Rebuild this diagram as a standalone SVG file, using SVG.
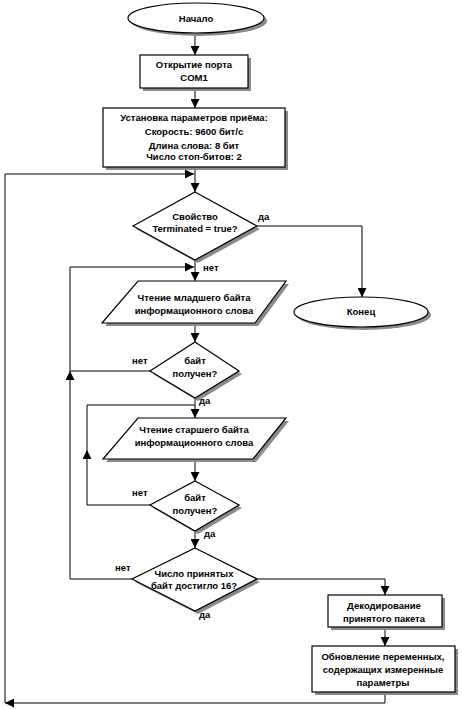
<svg xmlns="http://www.w3.org/2000/svg" width="462" height="709" viewBox="0 0 462 709">
<style>
.s{fill:#fff;stroke:#000;stroke-width:1.2}
.sh{fill:#8a8a8a;stroke:none}
.c{fill:none;stroke:#000;stroke-width:1}
text{font-family:"Liberation Sans",Arial,sans-serif;font-size:9.5px;font-weight:bold;fill:#000}
.m{text-anchor:middle}
</style>
<defs>
<marker id="a" viewBox="0 0 10 10" refX="10" refY="5" markerWidth="9" markerHeight="9" markerUnits="userSpaceOnUse" orient="auto">
<path d="M0,0 L10,5 L0,10 z" fill="#000"/>
</marker>
</defs>
<rect width="462" height="709" fill="#fff"/>
<g id="connectors">
<path class="c" d="M195,33 V55" marker-end="url(#a)"/>
<path class="c" d="M195,88 V108" marker-end="url(#a)"/>
<path class="c" d="M195,167 V192" marker-end="url(#a)"/>
<path class="c" d="M385,692 V703 H5" marker-end="url(#a)"/>
<path class="c" d="M5,703 V174 H194" marker-end="url(#a)"/>
<path class="c" d="M257,226 H362 V297" marker-end="url(#a)"/>
<path class="c" d="M195,260 V281" marker-end="url(#a)"/>
<path class="c" d="M70,267 H194" marker-end="url(#a)"/>
<path class="c" d="M195,323 V342" marker-end="url(#a)"/>
<path class="c" d="M150,371 H70"/>
<path class="c" d="M132,579 H70 V371" marker-end="url(#a)"/>
<path class="c" d="M70,371 V267"/>
<path class="c" d="M195,398 V418" marker-end="url(#a)"/>
<path class="c" d="M150,505 H87 V450" marker-end="url(#a)"/>
<path class="c" d="M87,450 V405 H195"/>
<path class="c" d="M195,459 V481" marker-end="url(#a)"/>
<path class="c" d="M195,531 V548" marker-end="url(#a)"/>
<path class="c" d="M257,579 H385 V595" marker-end="url(#a)"/>
<path class="c" d="M385,627 V646" marker-end="url(#a)"/>
</g>
<g id="start">
<ellipse class="sh" cx="199" cy="21" rx="68" ry="15"/>
<ellipse class="s" cx="196" cy="18" rx="68" ry="15"/>
<text class="m" x="196" y="22">Начало</text>
</g>
<g id="open-port">
<rect class="sh" x="143" y="58" width="108" height="33"/>
<rect class="s" x="140" y="55" width="108" height="33"/>
<text class="m" x="194" y="68">Открытие порта</text>
<text class="m" x="194" y="81">COM1</text>
</g>
<g id="set-params">
<rect class="sh" x="106" y="111" width="182" height="59"/>
<rect class="s" x="103" y="108" width="182" height="59"/>
<text class="m" x="194" y="121">Установка параметров приёма:</text>
<text class="m" x="194" y="135">Скорость: 9600 бит/с</text>
<text class="m" x="194" y="149">Длина слова: 8 бит</text>
<text class="m" x="194" y="160">Число стоп-битов: 2</text>
</g>
<g id="terminated">
<polygon class="sh" points="198,195 260,229 198,263 136,229"/>
<polygon class="s" points="195,192 257,226 195,260 133,226"/>
<text class="m" x="195" y="220">Свойство</text>
<text class="m" x="195" y="232">Terminated = true?</text>
<text x="258" y="220">да</text>
<text x="203" y="271">нет</text>
</g>
<g id="end">
<ellipse class="sh" cx="364" cy="315" rx="67" ry="15"/>
<ellipse class="s" cx="361" cy="312" rx="67" ry="15"/>
<text class="m" x="361" y="315">Конец</text>
</g>
<g id="read-low">
<polygon class="sh" points="141,284 289,284 258,326 105,326"/>
<polygon class="s" points="138,281 286,281 255,323 102,323"/>
<text class="m" x="194" y="301">Чтение младшего байта</text>
<text class="m" x="194" y="314">информационного слова</text>
</g>
<g id="got-low">
<polygon class="sh" points="198,345 242,374 198,401 153,374"/>
<polygon class="s" points="195,342 239,371 195,398 150,371"/>
<text class="m" x="195" y="364">байт</text>
<text class="m" x="195" y="377">получен?</text>
<text x="132" y="364">нет</text>
<text x="199" y="404">да</text>
</g>
<g id="read-high">
<polygon class="sh" points="141,421 289,421 256,462 106,462"/>
<polygon class="s" points="138,418 286,418 253,459 103,459"/>
<text class="m" x="194" y="433">Чтение старшего байта</text>
<text class="m" x="194" y="446">информационного слова</text>
</g>
<g id="got-high">
<polygon class="sh" points="198,484 242,508 198,534 153,508"/>
<polygon class="s" points="195,481 239,505 195,531 150,505"/>
<text class="m" x="195" y="501">байт</text>
<text class="m" x="195" y="514">получен?</text>
<text x="132" y="496">нет</text>
<text x="204" y="537">да</text>
</g>
<g id="count16">
<polygon class="sh" points="198,551 260,582 198,614 135,582"/>
<polygon class="s" points="195,548 257,579 195,611 132,579"/>
<text class="m" x="194" y="577">Число принятых</text>
<text class="m" x="194" y="589">байт достигло 16?</text>
<text x="115" y="571">нет</text>
<text x="199" y="618">да</text>
</g>
<g id="decode">
<rect class="sh" x="331" y="598" width="114" height="32"/>
<rect class="s" x="328" y="595" width="114" height="32"/>
<text class="m" x="384" y="609">Декодирование</text>
<text class="m" x="384" y="622">принятого пакета</text>
</g>
<g id="update">
<rect class="sh" x="315" y="649" width="143" height="46"/>
<rect class="s" x="312" y="646" width="143" height="46"/>
<text class="m" x="383" y="660">Обновление переменных,</text>
<text class="m" x="383" y="673">содержащих измеренные</text>
<text class="m" x="383" y="686">параметры</text>
</g>
</svg>
